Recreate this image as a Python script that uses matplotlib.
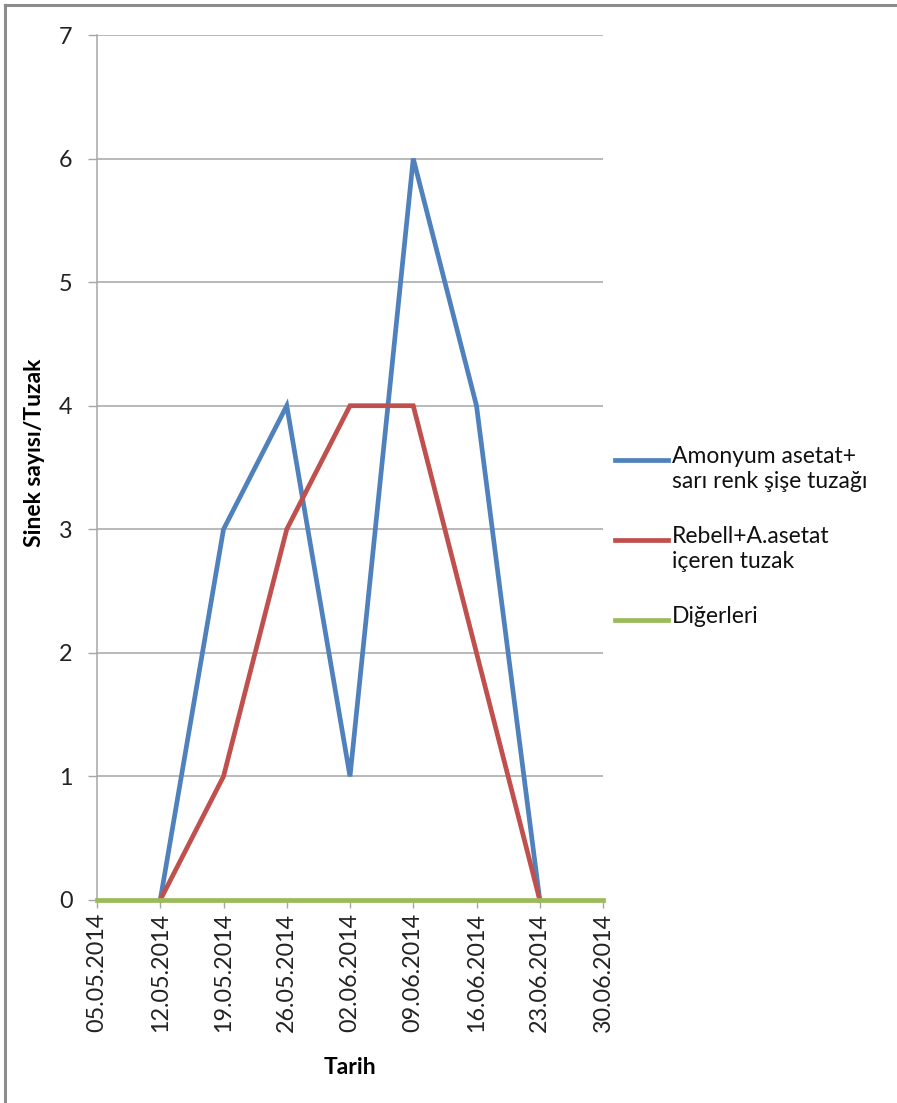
import datetime as dt
import numpy as np
import matplotlib
matplotlib.use('Agg')
import matplotlib.pyplot as plt
from matplotlib.lines import Line2D

plt.rcParams['font.family'] = ['Lato', 'DejaVu Sans']

# Data
date_labels = ['05.05.2014', '12.05.2014', '19.05.2014', '26.05.2014', '02.06.2014',
               '09.06.2014', '16.06.2014', '23.06.2014', '30.06.2014']
amonyum = [np.nan, 0, 3, 4, 1, 6, 4, 0, np.nan]
rebell = [np.nan, 0, 1, 3, 4, 4, 2, 0, np.nan]
digerleri = [0, 0, 0, 0, 0, 0, 0, 0, 0]
series_names = ['Amonyum asetat+\nsarı renk şişe tuzağı',
                'Rebell+A.asetat\niçeren tuzak',
                'Diğerleri']
colors = ['#4F81BD', '#C0504D', '#9BBB59']

dates = [dt.datetime.strptime(d, '%d.%m.%Y') for d in date_labels]

W, H = 897, 1103
fig = plt.figure(figsize=(W / 100, H / 100), dpi=100)

# outer chart frame (left and top edges visible)
fig.add_artist(Line2D([5 / W, 5 / W], [0, 1 - 5 / H], color='#8c8c8c', lw=2.2,
                      transform=fig.transFigure))
fig.add_artist(Line2D([5 / W, 1], [1 - 5 / H, 1 - 5 / H], color='#8c8c8c', lw=2.2,
                      transform=fig.transFigure))

ax = fig.add_axes([97 / W, 1 - 900 / H, (603 - 97) / W, (900 - 35) / H])

for vals, c in zip([amonyum, rebell, digerleri], colors):
    ax.plot(dates, vals, color=c, lw=3.4, solid_joinstyle='miter', clip_on=False, zorder=3)

ax.set_xlim(dates[0], dates[-1])
ax.set_ylim(0, 7)
ax.set_yticks(range(8))
ax.set_xticks(dates)
ax.set_xticklabels(date_labels, rotation=90, fontsize=16.8, color='#222222')
ax.tick_params(axis='y', labelsize=16.8, labelcolor='#222222', length=6.5, width=1,
               color='#a6a6a6', pad=11)
ax.tick_params(axis='x', length=6, width=1, color='#a6a6a6', pad=3)

ax.grid(axis='y', color='#a6a6a6', lw=1.1)
ax.set_axisbelow(True)
for s in ['top', 'right']:
    ax.spines[s].set_visible(False)
for s in ['left', 'bottom']:
    ax.spines[s].set_color('#a6a6a6')
    ax.spines[s].set_linewidth(1.1)

fig.text(35 / W, 1 - 453 / H, 'Sinek sayısı/Tuzak', rotation=90, ha='center', va='center',
         fontsize=16.5, fontweight='bold')
fig.text(350 / W, 1 - 1067 / H, 'Tarih', ha='center', va='center',
         fontsize=16.5, fontweight='bold')

# legend drawn by hand so the line sits beside the first text line (Excel style)
for i, (name, c) in enumerate(zip(series_names, colors)):
    y = 1 - (460 + 80 * i) / H
    fig.add_artist(Line2D([615 / W, 668 / W], [y, y], color=c, lw=3.4,
                          transform=fig.transFigure))
    fig.text(672 / W, y + 14 / H, name, ha='left', va='top', fontsize=16.5,
             color='#111111', linespacing=1.25)

plt.savefig('out.png', dpi=100)
